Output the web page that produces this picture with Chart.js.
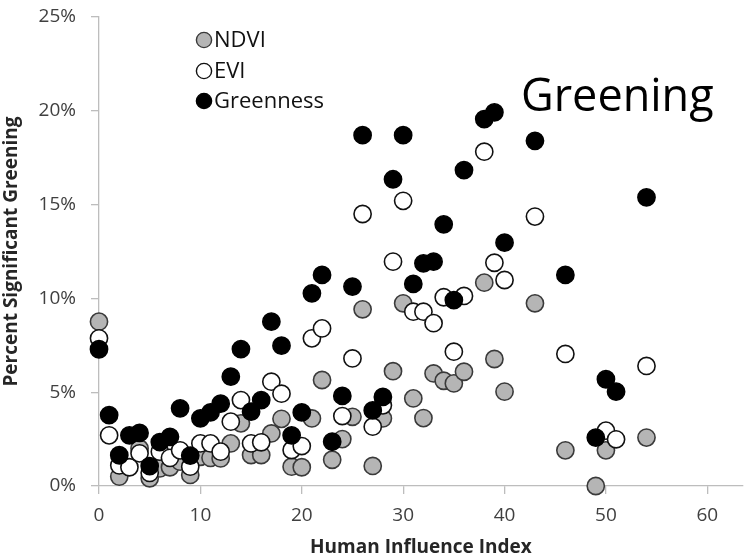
<!DOCTYPE html>
<html>
<head>
<meta charset="utf-8">
<script src="https://cdn.jsdelivr.net/npm/chart.js@4"></script>
<style>
  html, body { margin: 0; padding: 0; background: #fff; }
  #wrap { width: 753px; height: 560px; }
</style>
</head>
<body>
<div id="wrap"><canvas id="chart" width="753" height="560"></canvas></div>
<script>
// Human influence index for each sampled region
const hii = [0, 1, 2, 3, 4, 5, 6, 7, 8, 9, 10, 11, 12, 13, 14, 15, 16, 17, 18, 19,
             20, 21, 22, 23, 24, 25, 26, 27, 28, 29, 30, 31, 32, 33, 34, 35, 36, 38, 39, 40,
             43, 46, 49, 50, 51, 54];

// Percent significant greening (null = hidden / not visible in the figure)
const ndvi = [8.76, null, 0.5, null, 2.0, 0.41, 0.94, 1.0, 1.3, 0.59, 1.56, 1.5, 1.47, 2.27, 3.34, 1.65, 1.65, 2.8, 3.58, 1.03,
              1.0, 3.6, 5.65, 1.4, 2.5, 3.69, 9.42, 1.07, 3.6, 6.12, 9.74, 4.67, 3.62, 6.0, 5.61, 5.47, 6.09, 10.84, 6.77, 5.03,
              9.74, 1.9, 0.0, 1.9, null, 2.58];
const evi = [7.87, 2.7, 1.1, 1.0, 1.74, 0.7, 1.83, 1.5, 1.9, 1.03, 2.27, 2.27, 1.83, 3.43, 4.58, 2.27, 2.33, 5.56, 4.92, 1.92,
             2.13, 7.87, 8.4, null, 3.73, 6.8, 14.5, 3.16, 4.3, 11.96, 15.2, 9.29, 9.29, 8.68, 10.06, 7.16, 10.13, 17.82, 11.9, 10.98,
             14.36, 7.04, null, 2.95, 2.49, 6.4];
const greenness = [7.29, 3.78, 1.64, 2.7, 2.83, 1.06, 2.34, 2.62, 4.14, 1.62, 3.61, 3.92, 4.39, 5.83, 7.3, 3.96, 4.58, 8.76, 7.48, 2.7,
                   3.92, 10.27, 11.25, 2.36, 4.8, 10.63, 18.7, 4.03, 4.75, 16.35, 18.7, 10.77, 11.87, 11.96, 13.95, 9.91, 16.84, 19.56, 19.92, 12.97,
                   18.4, 11.25, 2.58, 5.69, 5.03, 15.39];

const yTicks = [0, 5, 10, 15, 20, 25];
const xTicks = [0, 10, 20, 30, 40, 50, 60];

const seriesNames = ['NDVI', 'EVI', 'Greenness'];
const fills = ['#b5b5b5', '#ffffff', '#000000'];
const borders = ['#3a3a3a', '#111111', '#000000'];

const FONT = '"Open Sans", Lato, sans-serif';

function toPoints(ys) {
    return hii.map((x, i) => ({ x: x, y: ys[i] })).filter(p => p.y !== null);
}

// legend + big label drawn inside the plot
const overlay = {
    id: 'overlay',
    afterDraw(chart) {
        const ctx = chart.ctx;
        ctx.save();
        const rows = [40, 71, 101];
        seriesNames.forEach((name, i) => {
            ctx.beginPath();
            ctx.arc(204, rows[i], 7.6, 0, Math.PI * 2);
            ctx.fillStyle = fills[i];
            ctx.fill();
            ctx.lineWidth = 1.4;
            ctx.strokeStyle = borders[i];
            ctx.stroke();
            ctx.fillStyle = '#111';
            ctx.font = '22px ' + FONT;
            ctx.textBaseline = 'middle';
            ctx.textAlign = 'left';
            ctx.fillText(name, 214, rows[i] + 1);
        });
        ctx.font = '45px ' + FONT;
        ctx.textBaseline = 'alphabetic';
        ctx.fillStyle = '#000';
        ctx.fillText('Greening', 521, 111);
        ctx.restore();
    }
};

const datasets = seriesNames.map((name, i) => ({
    label: name,
    data: toPoints([ndvi, evi, greenness][i]),
    backgroundColor: fills[i],
    borderColor: borders[i],
    borderWidth: 1.6,
    pointRadius: 8.6,
    clip: false,
    order: 3 - i
}));

new Chart(document.getElementById('chart'), {
    type: 'scatter',
    data: { datasets: datasets },
    options: {
        responsive: false,
        animation: false,
        layout: { padding: { top: 17, right: 2, bottom: 0, left: 0 } },
        plugins: {
            legend: { display: false },
            tooltip: { enabled: false }
        },
        scales: {
            x: {
                type: 'linear',
                min: 0,
                max: 63.5,
                afterFit: s => { s.height = 74; s.paddingLeft = 0; s.paddingRight = 0; },
                afterBuildTicks: s => { s.ticks = xTicks.map(v => ({ value: v })); },
                grid: { drawOnChartArea: false, drawTicks: true, tickLength: 8, color: '#bdbdbd', lineWidth: 1.3 },
                border: { display: true, color: '#bdbdbd', width: 1.3 },
                ticks: { color: '#404040', font: { family: FONT, size: 19 }, padding: 10, maxRotation: 0 },
                title: {
                    display: true,
                    text: 'Human Influence Index',
                    color: '#262626',
                    font: { family: FONT, size: 19, weight: 'bold' },
                    padding: { top: 0, bottom: 1 }
                }
            },
            y: {
                min: 0,
                max: 25,
                afterFit: s => { s.width = 99; s.paddingTop = 0; s.paddingBottom = 0; },
                afterBuildTicks: s => { s.ticks = yTicks.map(v => ({ value: v })); },
                grid: { drawOnChartArea: false, drawTicks: true, tickLength: 8, color: '#bdbdbd', lineWidth: 1.3 },
                border: { display: true, color: '#bdbdbd', width: 1.3 },
                ticks: {
                    color: '#404040',
                    font: { family: FONT, size: 19 },
                    padding: 15,
                    callback: v => v + '%'
                },
                title: {
                    display: true,
                    text: 'Percent Significant Greening',
                    color: '#262626',
                    font: { family: FONT, size: 19, weight: 'bold' },
                    padding: { top: 0, bottom: 10 }
                }
            }
        }
    },
    plugins: [overlay]
});
</script>
</body>
</html>
